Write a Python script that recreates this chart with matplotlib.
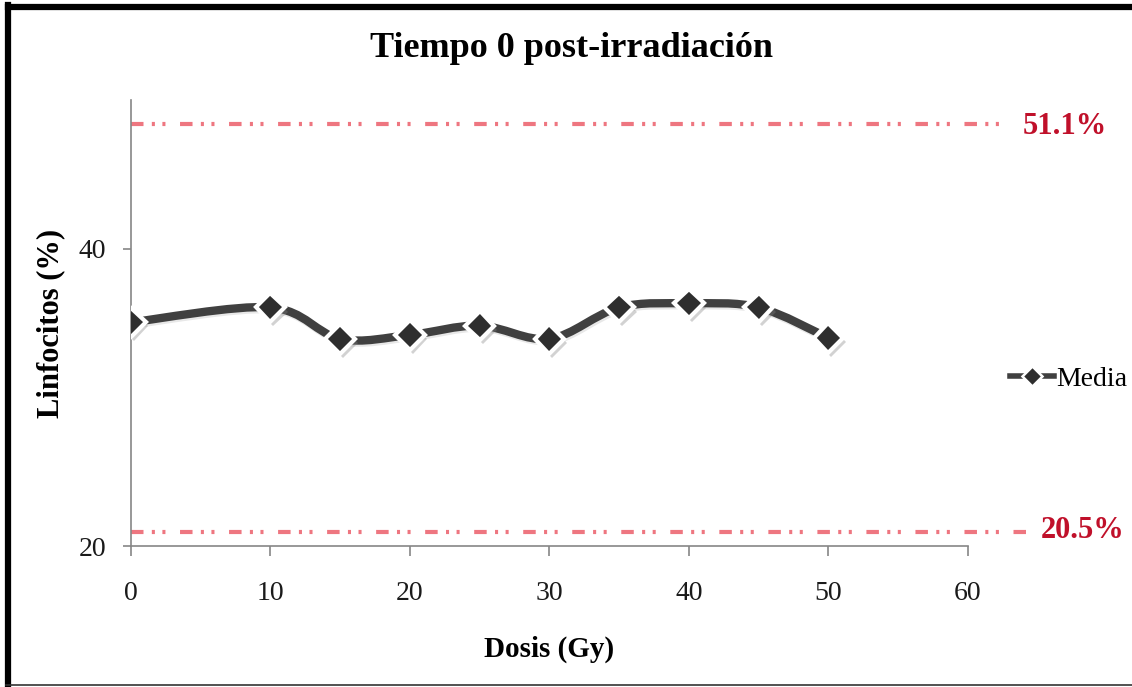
import matplotlib.pyplot as plt
import matplotlib.patheffects as pe
from matplotlib.path import Path
from matplotlib.patches import PathPatch
from matplotlib.lines import Line2D
import numpy as np

plt.rcParams['font.family'] = ['Liberation Serif', 'DejaVu Serif']
plt.rcParams['lines.scale_dashes'] = False

# data
dosis = [0, 10, 15, 20, 25, 30, 35, 40, 45, 50]
media = [35.06, 36.06, 33.94, 34.21, 34.84, 33.95, 36.06, 36.33, 36.06, 34.01]
ref_labels = ["51.1%", "20.5%"]
ref_levels = [48.39, 20.95]
ref_ends = [63.0, 64.5]
xticks = [0, 10, 20, 30, 40, 50, 60]
yticks = [20, 40]

fig = plt.figure(figsize=(11.32, 6.87), dpi=100)
ax = fig.add_axes([0.1157, 0.2047, 0.7394, 0.6497])

line_col = '#404040'
red_line = '#ee7680'
red_text = '#c0102a'
axis_col = '#868686'

# Excel-style smoothed line: cubic bezier segments through the points
P = np.column_stack([dosis, media])
n = len(P)
verts = [tuple(P[0])]
codes = [Path.MOVETO]
for i in range(n - 1):
    p0 = P[i - 1] if i > 0 else P[i]
    p1, p2 = P[i], P[i + 1]
    p3 = P[i + 2] if i + 2 < n else P[i + 1]
    c1 = p1 + (p2 - p0) / 6.0
    c2 = p2 - (p3 - p1) / 6.0
    verts += [tuple(c1), tuple(c2), tuple(p2)]
    codes += [Path.CURVE4] * 3
curve = PathPatch(Path(verts, codes), fill=False, edgecolor=line_col, lw=6,
                  capstyle='butt', joinstyle='round', zorder=3)
curve.set_path_effects([pe.SimpleLineShadow(offset=(1, -1.5), shadow_color='gray', alpha=0.18),
                        pe.Normal()])
ax.add_patch(curve)

ax.plot(dosis, media, linestyle='none', marker='D', ms=15, mfc='#2e2e2e',
        mec='white', mew=3, zorder=4,
        path_effects=[pe.SimplePatchShadow(offset=(2, -3), shadow_rgbFace='gray', alpha=0.35),
                      pe.Normal()])

# reference levels
for lvl, end in zip(ref_levels, ref_ends):
    ax.plot([0, end], [lvl, lvl], color=red_line, lw=3, clip_on=False, zorder=2,
            linestyle=(0, (9, 6, 2.2, 5.4, 2.2, 10.5)))
fig.text(1023 / 1132, 1 - 134 / 687, ref_labels[0], color=red_text, fontsize=22,
         fontweight='bold', ha='left', va='baseline')
fig.text(1041 / 1132, 1 - 538 / 687, ref_labels[1], color=red_text, fontsize=22,
         fontweight='bold', ha='left', va='baseline')

ax.set_xlim(0, 60)
ax.set_ylim(20, 50)
ax.set_xticks(xticks)
ax.set_yticks(yticks)
for s in ['top', 'right']:
    ax.spines[s].set_visible(False)
for s in ['left', 'bottom']:
    ax.spines[s].set_color(axis_col)
    ax.spines[s].set_linewidth(1.2)
ax.tick_params(axis='x', direction='out', length=7, width=1.2, color=axis_col,
               labelsize=20, labelcolor='#1a1a1a', pad=18)
ax.tick_params(axis='y', direction='out', length=6, width=1.2, color=axis_col,
               labelsize=20, labelcolor='#1a1a1a', pad=12)

ax.set_xlabel("Dosis (Gy)", fontsize=21, fontweight='bold')
ax.xaxis.set_label_coords(0.5, -0.2)
ax.set_ylabel("Linfocitos (%)", fontsize=22, fontweight='bold')
ax.yaxis.set_label_coords(-0.078, 0.5)

fig.text(0.505, 1 - 57 / 687, "Tiempo 0 post-irradiación", fontsize=26,
         fontweight='bold', ha='center', va='baseline')

handle = Line2D([], [], color=line_col, lw=4, marker='D', ms=10, mfc='#2e2e2e',
                mec='white', mew=1.8)
ax.legend([handle], ["Media"], loc='center left', bbox_to_anchor=(1010 / 1132, 1 - 379 / 687),
          bbox_transform=fig.transFigure, frameon=False, fontsize=20,
          handlelength=1.6, handletextpad=0.05, borderpad=0, borderaxespad=0)

# chart frame
fig.add_artist(Line2D([0.0075, 1.0], [1 - 6.5 / 687] * 2, color='black', lw=4.5,
                      transform=fig.transFigure))
fig.add_artist(Line2D([7.5 / 1132] * 2, [1 - 5 / 687, 2 / 687], color='black', lw=4.5,
                      transform=fig.transFigure))
fig.add_artist(Line2D([0.005, 1.0], [2 / 687] * 2, color='#333333', lw=1.2,
                      transform=fig.transFigure))

fig.savefig("out.png", dpi=100)
